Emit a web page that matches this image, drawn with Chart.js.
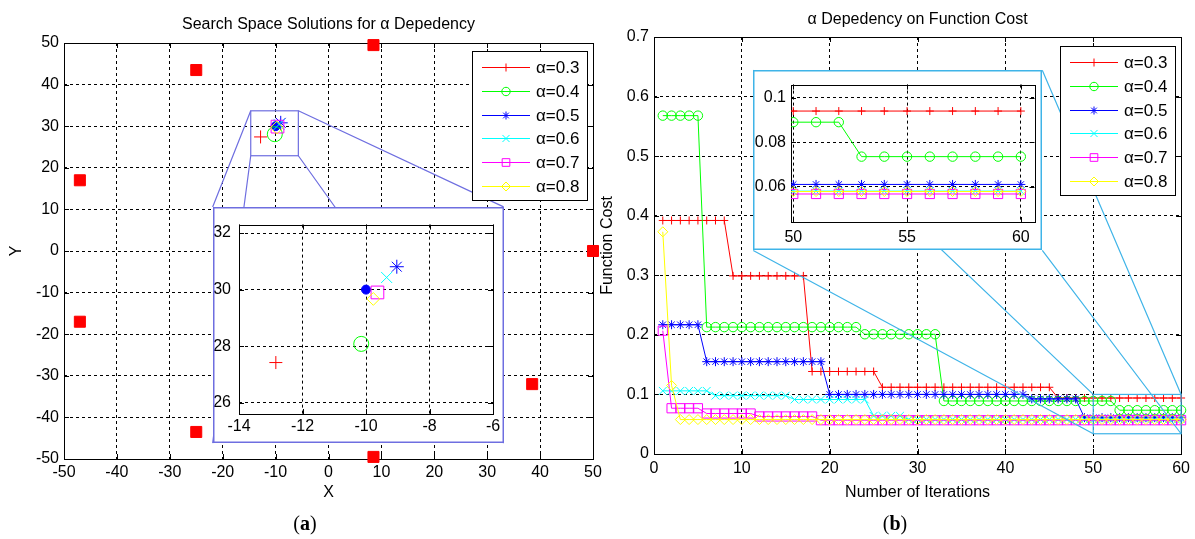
<!DOCTYPE html>
<html>
<head>
<meta charset="utf-8">
<title>α Dependency</title>
<script src="https://cdn.jsdelivr.net/npm/chart.js@4.4.1/dist/chart.umd.min.js"></script>
<style>
  html, body { margin: 0; padding: 0; background: #fff; }
  body { position: relative; width: 1195px; height: 539px; overflow: hidden; }
  .panel { position: absolute; top: 0; height: 539px; }
  #panelA { left: 0; width: 606px; }
  #panelB { left: 600px; width: 595px; }
  .panel > canvas { position: absolute; left: 0; top: 0; }
  .inset { position: absolute; background: #fff; }
  .inset canvas { display: block; }
  .caption { position: absolute; top: 512px; width: 60px; margin-left: -30px; text-align: center;
             font: 20px "Liberation Serif", "DejaVu Serif", serif; color: #000; }
</style>
</head>
<body>
<div class="panel" id="panelA">
  <canvas id="mainA" width="606" height="539"></canvas>
  <div class="inset" id="insetBoxA"><canvas id="insetA"></canvas></div>
</div>
<div class="panel" id="panelB">
  <canvas id="mainB" width="595" height="539"></canvas>
  <div class="inset" id="insetBoxB"><canvas id="insetB"></canvas></div>
</div>
<div class="caption" style="left:305px">(<b>a</b>)</div>
<div class="caption" style="left:895px">(<b>b</b>)</div>

<script>
// ---------- panel (a): search space ----------
const alphaLabels = ['α=0.3', 'α=0.4', 'α=0.5', 'α=0.6', 'α=0.7', 'α=0.8'];
const anchorX = [-47, -25, 8.5, 50, 38.5, 8.5, -25, -47];
const anchorY = [17, 43.5, 49.5, 0, -32, -49.5, -43.5, -17];
const targetX = [-10.0];
const targetY = [30.0];
const solutionX = [-12.84, -10.15, -9.03, -9.35, -9.64, -9.77];
const solutionY = [27.42, 28.08, 30.81, 30.43, 29.90, 29.67];
const searchTicks = [-50, -40, -30, -20, -10, 0, 10, 20, 30, 40, 50];
const searchTickLabels = ['-50', '-40', '-30', '-20', '-10', '0', '10', '20', '30', '40', '50'];
const zoomTicksX = [-14, -12, -10, -8, -6];
const zoomTickLabelsX = ['-14', '-12', '-10', '-8', '-6'];
const zoomTicksY = [26, 28, 30, 32];
const zoomTickLabelsY = ['26', '28', '30', '32'];

// ---------- panel (b): function cost ----------
const iterations = Array.from({ length: 60 }, (_, i) => i + 1);
const cost03 = [
  0.392, 0.392, 0.392, 0.392, 0.392, 0.392, 0.392, 0.392, 0.299, 0.299,
  0.299, 0.299, 0.299, 0.299, 0.299, 0.299, 0.299, 0.1385, 0.1385, 0.1385,
  0.1385, 0.1385, 0.1385, 0.1385, 0.1385, 0.112, 0.112, 0.112, 0.112, 0.112,
  0.112, 0.112, 0.112, 0.112, 0.112, 0.112, 0.112, 0.112, 0.112, 0.112,
  0.112, 0.112, 0.112, 0.112, 0.112, 0.094, 0.094, 0.094, 0.094, 0.094,
  0.094, 0.094, 0.094, 0.094, 0.094, 0.094, 0.094, 0.094, 0.094, 0.094
];
const cost04 = [
  0.568, 0.568, 0.568, 0.568, 0.568, 0.213, 0.213, 0.213, 0.213, 0.213,
  0.213, 0.213, 0.213, 0.213, 0.213, 0.213, 0.213, 0.213, 0.213, 0.213,
  0.213, 0.213, 0.213, 0.201, 0.201, 0.201, 0.201, 0.201, 0.201, 0.201,
  0.201, 0.201, 0.089, 0.089, 0.089, 0.089, 0.089, 0.089, 0.089, 0.089,
  0.089, 0.089, 0.089, 0.089, 0.089, 0.089, 0.089, 0.089, 0.089, 0.089,
  0.089, 0.089, 0.0735, 0.0735, 0.0735, 0.0735, 0.0735, 0.0735, 0.0735, 0.0735
];
const cost05 = [
  0.217, 0.217, 0.217, 0.217, 0.217, 0.155, 0.155, 0.155, 0.155, 0.155,
  0.155, 0.155, 0.155, 0.155, 0.155, 0.155, 0.155, 0.155, 0.155, 0.1,
  0.1, 0.1, 0.1, 0.1, 0.1, 0.1, 0.1, 0.1, 0.1, 0.1,
  0.1, 0.1, 0.1, 0.1, 0.1, 0.1, 0.1, 0.1, 0.1, 0.1,
  0.1, 0.1, 0.0925, 0.0925, 0.0925, 0.0925, 0.0925, 0.0925, 0.061, 0.061,
  0.061, 0.061, 0.061, 0.061, 0.061, 0.061, 0.061, 0.061, 0.061, 0.061
];
const cost06 = [
  0.106, 0.106, 0.106, 0.106, 0.106, 0.106, 0.098, 0.098, 0.098, 0.098,
  0.098, 0.098, 0.098, 0.098, 0.098, 0.0915, 0.0915, 0.0915, 0.0915, 0.0915,
  0.0915, 0.0915, 0.0915, 0.0915, 0.064, 0.064, 0.064, 0.064, 0.058, 0.058,
  0.058, 0.058, 0.058, 0.058, 0.058, 0.058, 0.058, 0.058, 0.058, 0.058,
  0.058, 0.058, 0.058, 0.058, 0.058, 0.058, 0.058, 0.058, 0.058, 0.058,
  0.058, 0.058, 0.058, 0.058, 0.058, 0.058, 0.058, 0.058, 0.058, 0.058
];
const cost07 = [
  0.207, 0.0768, 0.0768, 0.0768, 0.0768, 0.068, 0.068, 0.068, 0.068, 0.068,
  0.068, 0.063, 0.063, 0.063, 0.063, 0.063, 0.063, 0.063, 0.0567, 0.0567,
  0.0567, 0.0567, 0.0567, 0.0567, 0.0567, 0.0567, 0.0567, 0.0567, 0.0567, 0.0567,
  0.0567, 0.0567, 0.0567, 0.0567, 0.0567, 0.0567, 0.0567, 0.0567, 0.0567, 0.0567,
  0.0567, 0.0567, 0.0567, 0.0567, 0.0567, 0.0567, 0.0567, 0.0567, 0.0567, 0.0567,
  0.0567, 0.0567, 0.0567, 0.0567, 0.0567, 0.0567, 0.0567, 0.0567, 0.0567, 0.0567
];
const cost08 = [
  0.373, 0.115, 0.0578, 0.0578, 0.0578, 0.0578, 0.0578, 0.0578, 0.0578, 0.0578,
  0.0578, 0.0578, 0.0578, 0.0578, 0.0578, 0.0578, 0.0578, 0.0578, 0.0578, 0.0578,
  0.0578, 0.0578, 0.0578, 0.0578, 0.0578, 0.0578, 0.0578, 0.0578, 0.0578, 0.0578,
  0.0578, 0.0578, 0.0578, 0.0578, 0.0578, 0.0578, 0.0578, 0.0578, 0.0578, 0.0578,
  0.0578, 0.0578, 0.0578, 0.0578, 0.0578, 0.0578, 0.0578, 0.0578, 0.0578, 0.0578,
  0.0578, 0.0578, 0.0578, 0.0578, 0.0578, 0.0578, 0.0578, 0.0578, 0.0578, 0.0578
];
const costSeries = [cost03, cost04, cost05, cost06, cost07, cost08];
const costTicksX = [0, 10, 20, 30, 40, 50, 60];
const costTickLabelsX = ['0', '10', '20', '30', '40', '50', '60'];
const costTicksY = [0, 0.1, 0.2, 0.3, 0.4, 0.5, 0.6, 0.7];
const costTickLabelsY = ['0', '0.1', '0.2', '0.3', '0.4', '0.5', '0.6', '0.7'];
const insetTicksX = [50, 55, 60];
const insetTickLabelsX = ['50', '55', '60'];
const insetTicksY = [0.06, 0.08, 0.1];
const insetTickLabelsY = ['0.06', '0.08', '0.1'];

// zoom windows, in data units of each main axes
const zoomSrcA = { x: [-14.7, -5.7], y: [22.9, 33.7] };
const zoomDstA = { x: [-21.9, 33.1], y: [-46.2, 10.6] };
const insetLimA = { x: [-14, -6], y: [25.6, 32.3] };
const zoomSrcB = { x: [50, 60], y: [0.034, 0.1] };
const zoomDstB = { x: [11.3, 44.2], y: [0.3417, 0.6442] };
const insetLimB = { x: [49.9, 60.6], y: [0.0441, 0.1059] };

// styles
const FONT = '"Liberation Sans", Arial, sans-serif';
const colors = ['#ff0000', '#00ff00', '#0000ff', '#00ffff', '#ff00ff', '#ffff00'];
const markers = ['cross', 'circle', 'star', 'crossRot', 'rect', 'rectRot'];
const markerSizeA = [6.5, 7.5, 7, 7.8, 9, 6.4];
const markerSizeB = [4, 4.7, 4.5, 5.5, 6.5, 5];
const legendMarkerSize = [4, 4.2, 4, 5, 5.4, 4.5];
const zoomColorA = '#6e6ee0';
const zoomColorB = '#3fb4e8';

Chart.defaults.font.family = FONT;
Chart.defaults.font.size = 16;
Chart.defaults.color = '#000';

function drawMarker(ctx, style, x, y, r) {
    const d = r * Math.SQRT1_2;
    ctx.beginPath();
    if (style === 'circle') ctx.arc(x, y, r, 0, Math.PI * 2);
    else if (style === 'rect') ctx.rect(x - d, y - d, 2 * d, 2 * d);
    else if (style === 'rectRot') {
        ctx.moveTo(x - r, y); ctx.lineTo(x, y - r); ctx.lineTo(x + r, y); ctx.lineTo(x, y + r); ctx.closePath();
    } else {
        if (style === 'cross' || style === 'star') {
            ctx.moveTo(x, y - r); ctx.lineTo(x, y + r); ctx.moveTo(x - r, y); ctx.lineTo(x + r, y);
        }
        if (style === 'crossRot' || style === 'star') {
            ctx.moveTo(x - d, y - d); ctx.lineTo(x + d, y + d); ctx.moveTo(x + d, y - d); ctx.lineTo(x - d, y + d);
        }
    }
    ctx.stroke();
}

// MATLAB style box with inward ticks
const frame = {
    id: 'frame',
    beforeDatasetsDraw(chart) {
        const { ctx, chartArea: a, scales: { x, y } } = chart;
        const len = 5;
        ctx.save();
        ctx.strokeStyle = '#000';
        ctx.lineWidth = 1;
        ctx.setLineDash([]);
        ctx.beginPath();
        x.ticks.forEach(t => {
            const p = Math.round(x.getPixelForValue(t.value)) + 0.5;
            ctx.moveTo(p, a.bottom); ctx.lineTo(p, a.bottom - len);
            ctx.moveTo(p, a.top); ctx.lineTo(p, a.top + len);
        });
        y.ticks.forEach(t => {
            const p = Math.round(y.getPixelForValue(t.value)) + 0.5;
            ctx.moveTo(a.left, p); ctx.lineTo(a.left + len, p);
            ctx.moveTo(a.right, p); ctx.lineTo(a.right - len, p);
        });
        ctx.stroke();
        ctx.strokeRect(Math.round(a.left) + 0.5, Math.round(a.top) + 0.5,
            Math.round(a.right - a.left), Math.round(a.bottom - a.top));
        ctx.restore();
    }
};

// title centred over the plot area
const plotTitle = {
    id: 'plotTitle',
    afterDraw(chart, args, o) {
        if (!o.text) return;
        const { ctx, chartArea: a } = chart;
        ctx.save();
        ctx.font = '16px ' + FONT;
        ctx.fillStyle = '#000';
        ctx.textAlign = 'center';
        ctx.textBaseline = 'middle';
        ctx.fillText(o.text, (a.left + a.right) / 2, o.y);
        ctx.restore();
    }
};

// magnifier rectangle + connector lines
const zoomLinks = {
    id: 'zoomLinks',
    afterDatasetsDraw(chart, args, o) {
        if (!o.src) return;
        const { ctx, scales: { x, y } } = chart;
        const box = w => ({
            l: x.getPixelForValue(w.x[0]), r: x.getPixelForValue(w.x[1]),
            t: y.getPixelForValue(w.y[1]), b: y.getPixelForValue(w.y[0])
        });
        const s = box(o.src), d = box(o.dst);
        ctx.save();
        ctx.strokeStyle = o.color;
        ctx.lineWidth = 1.2;
        ctx.strokeRect(s.l, s.t, s.r - s.l, s.b - s.t);
        ctx.beginPath();
        [['l', 't'], ['r', 't'], ['l', 'b'], ['r', 'b']].forEach(([h, v]) => {
            ctx.moveTo(s[h], s[v]);
            ctx.lineTo(d[h], d[v]);
        });
        ctx.stroke();
        ctx.restore();
    }
};

// boxed legend inside the axes
const boxLegend = {
    id: 'boxLegend',
    afterDraw(chart, args, o) {
        if (!o.show) return;
        const { ctx, chartArea: a } = chart;
        const w = 115, h = 149;
        const left = Math.round(a.right - o.right - w), top = Math.round(a.top + o.top);
        ctx.save();
        ctx.fillStyle = '#fff';
        ctx.fillRect(left, top, w, h);
        ctx.strokeStyle = '#000';
        ctx.lineWidth = 1;
        ctx.strokeRect(left + 0.5, top + 0.5, w, h);
        ctx.font = '17px ' + FONT;
        ctx.textBaseline = 'middle';
        alphaLabels.forEach((lab, i) => {
            const yy = Math.round(top + 16 + i * 23.8) + 0.5;
            ctx.strokeStyle = colors[i];
            ctx.beginPath();
            ctx.moveTo(left + 10, yy);
            ctx.lineTo(left + 58, yy);
            ctx.stroke();
            drawMarker(ctx, markers[i], left + 34, yy, legendMarkerSize[i]);
            ctx.fillStyle = '#000';
            ctx.fillText(lab, left + 64, yy + 1);
        });
        ctx.restore();
    }
};

// outline of an inset canvas
const insetBorder = {
    id: 'insetBorder',
    afterDraw(chart, args, o) {
        if (!o.color) return;
        const { ctx, width, height } = chart;
        ctx.save();
        ctx.strokeStyle = o.color;
        ctx.lineWidth = 1.5;
        ctx.strokeRect(0.75, 0.75, width - 1.5, height - 1.5);
        ctx.restore();
    }
};

function axis(lim, ticks, labels, opts) {
    return {
        type: 'linear',
        min: lim[0],
        max: lim[1],
        afterBuildTicks: s => { s.ticks = ticks.map(v => ({ value: v })); },
        afterFit: s => {
            if (opts.width != null) s.width = opts.width;
            if (opts.height != null) s.height = opts.height;
        },
        ticks: { autoSkip: false, maxRotation: 0, padding: opts.pad, color: '#000',
                 font: { size: 16 }, callback: (v, i) => labels[i] },
        grid: { color: '#000', lineWidth: 1, drawTicks: false },
        border: { display: false, dash: [3, 3] },
        title: opts.title
            ? { display: true, text: opts.title, color: '#000', padding: opts.titlePad,
                font: { size: 16, lineHeight: 1 } }
            : { display: false }
    };
}

function searchDatasets(clip) {
    const sets = [
        { label: 'anchors', data: anchorX.map((v, k) => ({ x: v, y: anchorY[k] })),
          pointStyle: 'rect', pointRadius: 7.8, pointBackgroundColor: '#ff0000',
          pointBorderColor: '#ff0000', pointBorderWidth: 1, clip },
        { label: 'target', data: targetX.map((v, k) => ({ x: v, y: targetY[k] })),
          pointStyle: 'circle', pointRadius: 4.5, pointBackgroundColor: '#0000ff',
          pointBorderColor: '#0000ff', pointBorderWidth: 1, clip }
    ];
    alphaLabels.forEach((lab, i) => sets.push({
        label: lab, data: [{ x: solutionX[i], y: solutionY[i] }],
        pointStyle: markers[i], pointRadius: markerSizeA[i], pointBorderColor: colors[i],
        pointBackgroundColor: 'rgba(0,0,0,0)', pointBorderWidth: 1, clip
    }));
    sets.forEach((s, i) => { s.order = sets.length - i; });
    return sets;
}

function costDatasets(clip) {
    return costSeries.map((vals, i) => ({
        label: alphaLabels[i],
        data: vals.map((v, k) => ({ x: iterations[k], y: v })),
        showLine: true, borderColor: colors[i], borderWidth: 1, tension: 0, fill: false,
        pointStyle: markers[i], pointRadius: markerSizeB[i], pointBorderColor: colors[i],
        pointBackgroundColor: 'rgba(0,0,0,0)', pointBorderWidth: 1,
        order: costSeries.length - i, clip
    }));
}

const baseOptions = { responsive: false, animation: false, events: [] };
const plugins = [frame, zoomLinks, boxLegend, plotTitle, insetBorder];

// ---------- main (a) ----------
const chartA = new Chart(document.getElementById('mainA'), {
    type: 'scatter',
    data: { datasets: searchDatasets(false) },
    options: {
        ...baseOptions,
        layout: { padding: { left: 0, right: 13, top: 43, bottom: 34 } },
        plugins: {
            legend: { display: false }, tooltip: { enabled: false },
            plotTitle: { text: 'Search Space Solutions for α Depedency', y: 25 },
            zoomLinks: { src: zoomSrcA, dst: zoomDstA, color: zoomColorA },
            boxLegend: { show: true, right: 6, top: 8 }
        },
        scales: {
            x: axis([-50, 50], searchTicks, searchTickLabels, { height: 46, pad: 4, title: 'X', titlePad: { top: 0, bottom: 4 } }),
            y: axis([-50, 50], searchTicks, searchTickLabels, { width: 64, pad: 5, title: 'Y', titlePad: { top: 9, bottom: 0 } })
        }
    },
    plugins
});

// ---------- main (b) ----------
const chartB = new Chart(document.getElementById('mainB'), {
    type: 'scatter',
    data: { datasets: costDatasets(false) },
    options: {
        ...baseOptions,
        layout: { padding: { left: 0, right: 13, top: 37, bottom: 34 } },
        plugins: {
            legend: { display: false }, tooltip: { enabled: false },
            plotTitle: { text: 'α Depedency on Function Cost', y: 20 },
            zoomLinks: { src: zoomSrcB, dst: zoomDstB, color: zoomColorB },
            boxLegend: { show: true, right: 6, top: 9 }
        },
        scales: {
            x: axis([0, 60], costTicksX, costTickLabelsX, { height: 51, pad: 5, title: 'Number of Iterations', titlePad: { top: 0, bottom: 4 } }),
            y: axis([0, 0.7], costTicksY, costTickLabelsY, { width: 54, pad: 5, title: 'Function Cost', titlePad: { top: 0, bottom: 0 } })
        }
    },
    plugins
});

// ---------- insets, placed on the zoom boxes of the main axes ----------
function makeInset(main, dst, boxId, canvasId, cfg) {
    const xs = main.scales.x, ys = main.scales.y;
    const l = Math.round(xs.getPixelForValue(dst.x[0])), r = Math.round(xs.getPixelForValue(dst.x[1]));
    const t = Math.round(ys.getPixelForValue(dst.y[1])), b = Math.round(ys.getPixelForValue(dst.y[0]));
    const box = document.getElementById(boxId), cv = document.getElementById(canvasId);
    Object.assign(box.style, { left: l + 'px', top: t + 'px', width: (r - l) + 'px', height: (b - t) + 'px' });
    cv.width = r - l;
    cv.height = b - t;
    return new Chart(cv, cfg);
}

makeInset(chartA, zoomDstA, 'insetBoxA', 'insetA', {
    type: 'scatter',
    data: { datasets: searchDatasets(undefined) },
    options: {
        ...baseOptions,
        layout: { padding: { left: 0, right: 11, top: 6, bottom: 0 } },
        plugins: { legend: { display: false }, tooltip: { enabled: false }, insetBorder: { color: zoomColorA } },
        scales: {
            x: axis(insetLimA.x, zoomTicksX, zoomTickLabelsX, { height: 29, pad: 3 }),
            y: axis(insetLimA.y, zoomTicksY, zoomTickLabelsY, { width: 26, pad: 8 })
        }
    },
    plugins
});

makeInset(chartB, zoomDstB, 'insetBoxB', 'insetB', {
    type: 'scatter',
    data: { datasets: costDatasets(undefined) },
    options: {
        ...baseOptions,
        layout: { padding: { left: 0, right: 7, top: 9, bottom: 0 } },
        plugins: { legend: { display: false }, tooltip: { enabled: false }, insetBorder: { color: zoomColorB } },
        scales: {
            x: axis(insetLimB.x, insetTicksX, insetTickLabelsX, { height: 28, pad: 6 }),
            y: axis(insetLimB.y, insetTicksY, insetTickLabelsY, { width: 38, pad: 5 })
        }
    },
    plugins
});
</script>
</body>
</html>
